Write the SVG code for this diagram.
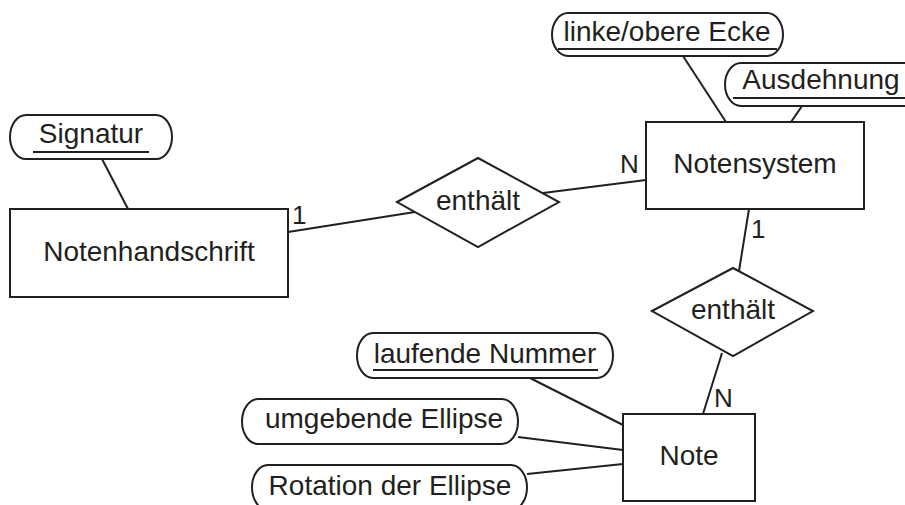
<svg xmlns="http://www.w3.org/2000/svg" width="905" height="505" viewBox="0 0 905 505">
  <style>
    .ent { fill: #ffffff; stroke: #231f20; stroke-width: 2; }
    .attr { fill: #ffffff; stroke: #231f20; stroke-width: 2; }
    .rel { fill: #ffffff; stroke: #231f20; stroke-width: 2; stroke-linejoin: miter; }
    .key { stroke: #231f20; stroke-width: 2; }
    .conn line { stroke: #231f20; stroke-width: 2; }
    text { font-family: "Liberation Sans", Arial, sans-serif; font-size: 28px; fill: #231f20; text-anchor: middle; }
    .card { font-size: 26px; text-anchor: start; }
  </style>
  <rect width="905" height="505" fill="#ffffff"/>

  <!-- connectors -->
  <g id="connectors" class="conn">
    <line x1="102" y1="159" x2="128" y2="209"/>
    <line x1="288" y1="232" x2="415" y2="212"/>
    <line x1="543" y1="193" x2="646" y2="180"/>
    <line x1="683" y1="56" x2="726" y2="122"/>
    <line x1="802" y1="106" x2="791" y2="122"/>
    <line x1="749" y1="209" x2="739" y2="271"/>
    <line x1="722" y1="353" x2="703" y2="414"/>
    <line x1="530" y1="378" x2="623" y2="425"/>
    <line x1="518" y1="437" x2="623" y2="450"/>
    <line x1="527" y1="474" x2="623" y2="464"/>
  </g>

  <!-- cardinalities -->
  <g id="cardinalities">
    <text class="card" x="292" y="224">1</text>
    <text class="card" x="620" y="173">N</text>
    <text class="card" x="751" y="238">1</text>
    <text class="card" x="714" y="407">N</text>
  </g>

  <!-- entities -->
  <g id="notenhandschrift">
    <rect class="ent" x="10" y="209" width="278" height="88"/>
    <text x="149" y="261">Notenhandschrift</text>
  </g>
  <g id="notensystem">
    <rect class="ent" x="646" y="122" width="218" height="87"/>
    <text x="755" y="173">Notensystem</text>
  </g>
  <g id="note">
    <rect class="ent" x="623" y="414" width="132" height="87"/>
    <text x="689" y="465">Note</text>
  </g>

  <!-- relationships -->
  <g id="enthaelt-1">
    <polygon class="rel" points="397,202 478,158 559,202 478,247"/>
    <text x="478" y="210">enthält</text>
  </g>
  <g id="enthaelt-2">
    <polygon class="rel" points="652,311 733,268 813,311 733,356"/>
    <text x="733" y="319">enthält</text>
  </g>

  <!-- attributes (key attributes are underlined) -->
  <g id="signatur">
    <rect class="attr" x="10" y="115" width="162" height="44" rx="16" ry="22"/>
    <text x="91" y="143">Signatur</text>
    <line class="key" x1="33" y1="152" x2="149" y2="152"/>
  </g>
  <g id="linke-obere-ecke">
    <rect class="attr" x="552" y="13" width="231" height="43" rx="16" ry="21.5"/>
    <text x="667" y="41">linke/obere Ecke</text>
    <line class="key" x1="558" y1="49" x2="777" y2="49"/>
  </g>
  <g id="ausdehnung">
    <rect class="attr" x="725" y="63" width="220" height="43" rx="16" ry="21.5"/>
    <text x="821" y="89">Ausdehnung</text>
    <line class="key" x1="733" y1="98" x2="905" y2="98"/>
  </g>
  <g id="laufende-nummer">
    <rect class="attr" x="357" y="333" width="256" height="45" rx="16" ry="22.5"/>
    <text x="485" y="363">laufende Nummer</text>
    <line class="key" x1="373" y1="370" x2="598" y2="370"/>
  </g>
  <g id="umgebende-ellipse">
    <rect class="attr" x="242" y="399" width="276" height="45" rx="16" ry="22.5"/>
    <text x="384" y="428">umgebende Ellipse</text>
  </g>
  <g id="rotation-der-ellipse">
    <rect class="attr" x="252" y="465" width="275" height="45" rx="16" ry="22.5"/>
    <text x="390" y="495">Rotation der Ellipse</text>
  </g>
</svg>
